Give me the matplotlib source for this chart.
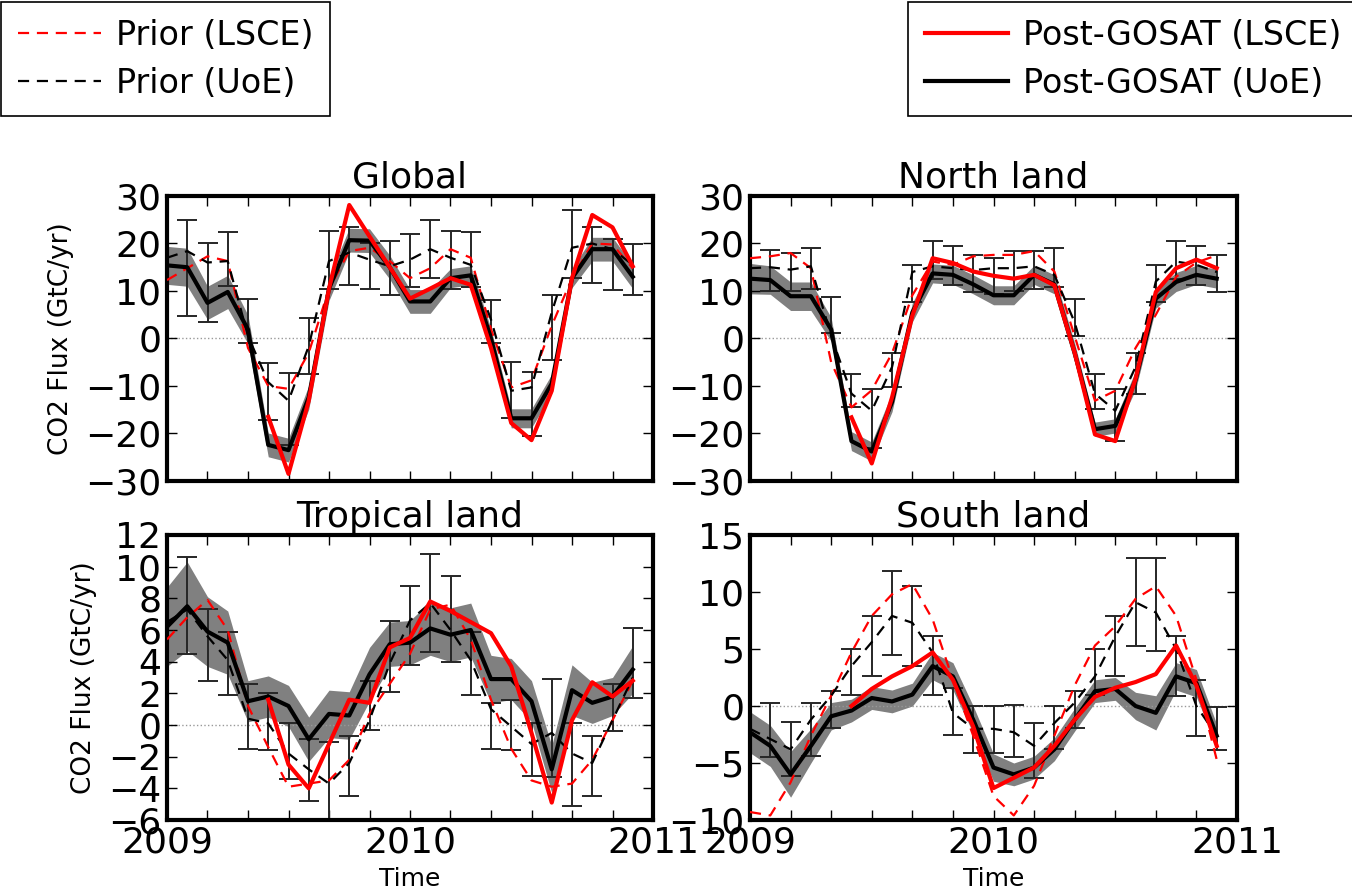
import numpy as np
import matplotlib
matplotlib.use("Agg")
import matplotlib.pyplot as plt
from matplotlib.ticker import MultipleLocator

nan = np.nan
months = 2009 + np.arange(24) / 12.0

# Global
glob_post_uoe = [15.4, 15.0, 7.5, 9.8, 1.9, -22.4, -23.5, -12.4, 10.5, 20.7, 20.6, 15.0,
                 7.8, 7.8, 12.7, 13.3, 0.0, -16.8, -16.8, -9.5, 12.7, 18.8, 18.8, 13.0]
glob_unc = [4, 4, 3.5, 3.5, 3, 2.5, 2.5, 2.5, 2.5, 2.5, 2.5, 2.5,
            2.5, 2.5, 2, 2, 2, 2, 2, 2, 2, 2.5, 2.5, 2.5]
glob_post_lsce = [nan, nan, nan, nan, nan, -16.5, -28.5, -13.1, 10.5, 28.1, 21.5, 15.0,
                  8.4, 10.5, 12.7, 11.3, -2.0, -17.8, -21.4, -11.0, 12.7, 26.0, 23.4, 15.2]
glob_prior_lsce = [12.3, 14.8, 17.3, 16.3, -2.0, -10.0, -10.6, -3.0, 10.5, 18.4, 19.1, 16.3,
                   12.7, 14.8, 18.8, 17.0, 2.0, -10.3, -8.8, 2.7, 12.7, 20.0, 19.8, 14.8]
glob_prior_uoe = [17.0, 18.4, 16.0, 16.3, 0.5, -9.2, -13.1, -1.6, 16.3, 18.1, 16.6, 15.2,
                  16.6, 18.8, 17.0, 15.5, 4.0, -11.0, -10.3, 5.5, 19.1, 20.0, 18.8, 15.5]
glob_err_hi = [24.9, 20.1, 22.4, 8.4, -5.2, -7.3, 4.4, 22.7, 23.4, 20.1, 20.5,
               21.9, 24.9, 22.7, 22.4, 8.0, -4.9, -7.0, 9.1, 27.0, 23.4, 20.9, 19.8]
glob_err_lo = [4.8, 3.4, 11.0, -0.9, -17.1, -22.5, -7.4, 10.5, 11.3, 10.5, 9.2,
               10.9, 12.7, 10.5, 10.9, -0.9, -16.7, -20.6, -4.5, 12.7, 11.6, 10.2, 9.1]

# North land
north_post_uoe = [12.6, 12.3, 8.9, 8.9, 1.9, -21.6, -23.8, -13.4, 5.5, 13.7, 13.4, 11.4,
                  9.1, 9.1, 13.4, 11.4, -3.0, -19.1, -18.4, -8.8, 8.4, 11.9, 13.4, 12.6]
north_unc = [3.2, 3, 3, 3, 2.5, 2, 2, 2, 2, 2, 2, 2,
             2, 2, 2, 2, 2, 1.5, 1.5, 2, 2, 2, 2, 2]
north_post_lsce = [nan, nan, nan, nan, nan, -16.6, -26.3, -12.4, 4.8, 16.9, 15.9, 14.1,
                   13.2, 12.6, 13.4, 11.2, -3.0, -20.2, -21.6, -8.5, 9.8, 14.8, 16.6, 14.8]
north_prior_lsce = [16.9, 17.3, 18.0, 14.8, -5.0, -14.5, -10.9, -3.1, 9.1, 16.2, 15.5, 17.3,
                    17.6, 17.6, 18.4, 14.1, 0.5, -13.1, -11.0, -2.0, 5.0, 13.0, 16.0, 17.5]
north_prior_uoe = [14.8, 15.0, 14.5, 15.2, 0.5, -11.6, -15.2, -6.0, 14.0, 15.2, 14.8, 14.4,
                   14.8, 14.8, 15.2, 13.4, 3.4, -11.6, -15.2, -6.0, 12.0, 16.2, 15.5, 14.0]
north_err_hi = [18.7, 18.0, 19.1, 8.7, -7.4, -10.6, -3.1, 15.5, 20.5, 19.4, 17.6,
                16.9, 18.4, 18.4, 19.1, 8.4, -7.4, -10.6, -3.1, 15.5, 20.5, 19.4, 17.6]
north_err_lo = [10.1, 10.1, 10.5, 1.2, -14.5, -23.1, -10.2, 7.6, 12.6, 11.2, 9.8,
                9.4, 10.1, 10.5, 10.9, 0.5, -14.9, -21.6, -11.6, 7.6, 12.6, 11.2, 9.8]

# Tropical land
trop_post_uoe = [6.2, 7.5, 5.9, 5.2, 1.5, 1.8, 1.2, -0.9, 0.7, 0.6, 3.2, 5.1,
                 5.2, 6.1, 5.7, 6.0, 2.9, 2.9, 1.5, -2.8, 2.2, 1.4, 1.8, 3.5]
trop_unc = [2.5, 2.8, 2.2, 2.0, 1.3, 1.3, 1.3, 1.4, 1.5, 1.5, 1.7, 1.4,
            1.4, 1.7, 1.7, 1.7, 1.5, 1.3, 1.3, 1.5, 1.6, 1.3, 1.2, 1.5]
trop_post_lsce = [nan, nan, nan, nan, nan, 1.6, -2.5, -4.0, -1.2, 1.6, 1.4, 4.9,
                  5.5, 7.8, 7.2, 6.5, 5.8, 3.7, -0.5, -4.9, 0.3, 2.7, 1.8, 2.8]
trop_prior_lsce = [5.4, 6.8, 7.9, 6.0, 1.2, -1.4, -3.9, -3.7, -3.5, -2.2, 0.7, 2.6,
                   4.5, 7.3, 7.6, 5.4, 1.6, -1.5, -3.5, -3.9, -3.7, -2.2, 0.3, 2.8]
trop_prior_uoe = [6.5, 7.3, 5.6, 4.1, 0.4, 0.1, -1.8, -2.8, -3.7, -2.4, 0.3, 3.9,
                  6.6, 7.7, 6.0, 4.1, 1.0, -0.1, -1.2, -0.5, -1.8, -2.4, 0.3, 3.0]
trop_err_hi = [10.6, 7.3, 5.9, 2.6, 2.0, 0.1, -0.9, -1.1, -0.7, 2.8, 6.6,
               8.8, 10.8, 9.4, 5.9, 1.4, 1.6, 0.1, 2.9, 0.1, -0.7, 2.6, 6.1]
trop_err_lo = [4.5, 2.8, 1.9, -1.5, -1.6, -3.4, -4.8, -6.5, -4.5, -0.3, 2.1,
               3.8, 4.6, 4.0, 1.9, -1.5, -1.6, -3.2, -3.3, -5.1, -4.5, -0.4, 1.7]

# South land
south_post_uoe = [-2.3, -3.5, -6.0, -3.5, -0.9, -0.4, 0.7, 0.4, 1.0, 3.5, 2.6, -1.2,
                  -5.4, -6.0, -5.4, -3.8, -1.2, 1.3, 1.5, 0.0, -0.6, 2.6, 2.0, -2.6]
south_unc = [1.8, 1.8, 2.0, 1.5, 1.2, 1.0, 1.0, 1.0, 1.0, 1.2, 1.2, 1.2,
             1.2, 1.0, 1.0, 1.0, 1.0, 1.0, 1.0, 1.2, 1.5, 1.2, 1.2, 1.0]
south_post_lsce = [nan, nan, nan, nan, nan, 0.0, 1.5, 2.6, 3.5, 4.7, 2.3, -1.8,
                   -7.2, -6.3, -5.4, -3.5, -1.2, 0.8, 1.6, 2.1, 2.8, 5.3, 1.8, -3.5]
south_prior_lsce = [-9.3, -9.6, -6.7, -2.6, 0.9, 4.7, 7.9, 9.8, 10.7, 7.6, 2.3, -2.6,
                    -7.9, -9.6, -7.0, -2.6, 1.8, 5.3, 7.0, 9.4, 10.5, 7.9, 2.3, -4.7]
south_prior_uoe = [-2.0, -2.9, -3.8, -1.2, 0.9, 3.5, 5.6, 7.9, 7.3, 4.7, -0.6, -2.0,
                   -2.0, -2.3, -3.5, -1.5, 0.3, 2.6, 6.1, 9.1, 8.2, 5.0, 0.0, -2.6]
south_err_hi = [0.3, -1.4, 0.3, 1.3, 5.0, 7.9, 11.8, 10.5, 6.1, 1.6, 0.0,
                0.0, 0.1, -1.5, 0.0, 1.3, 5.0, 7.9, 13.0, 13.0, 6.1, 2.3, -0.1]
south_err_lo = [-4.5, -6.1, -4.4, -1.9, 1.0, 2.6, 4.5, 3.5, 1.0, -2.5, -4.1,
                -4.1, -4.5, -6.3, -3.8, -1.9, 1.0, 2.6, 5.3, 4.8, 0.9, -2.6, -3.9]

panels = [
    ("Global", glob_post_uoe, glob_unc, glob_post_lsce, glob_prior_lsce, glob_prior_uoe,
     glob_err_lo, glob_err_hi, (-30, 30), 10),
    ("North land", north_post_uoe, north_unc, north_post_lsce, north_prior_lsce, north_prior_uoe,
     north_err_lo, north_err_hi, (-30, 30), 10),
    ("Tropical land", trop_post_uoe, trop_unc, trop_post_lsce, trop_prior_lsce, trop_prior_uoe,
     trop_err_lo, trop_err_hi, (-6, 12), 2),
    ("South land", south_post_uoe, south_unc, south_post_lsce, south_prior_lsce, south_prior_uoe,
     south_err_lo, south_err_hi, (-10, 15), 5),
]

W, H = 1352, 893
fig = plt.figure(figsize=(W / 100, H / 100), dpi=100)
rects = [
    (167 / W, 1 - 481 / H, 486 / W, 285 / H),
    (750 / W, 1 - 481 / H, 487 / W, 285 / H),
    (167 / W, 1 - 820 / H, 486 / W, 285 / H),
    (750 / W, 1 - 820 / H, 487 / W, 285 / H),
]

for k, (title, post_uoe, unc, post_lsce, prior_lsce, prior_uoe, elo, ehi, ylim, ystep) in enumerate(panels):
    ax = fig.add_axes(rects[k])
    post_uoe = np.array(post_uoe)
    unc = np.array(unc)
    ax.fill_between(months, post_uoe - unc, post_uoe + unc, color="0.5", lw=0, zorder=1)
    ax.axhline(0, color="0.6", ls=":", lw=1, zorder=1.5)
    elo = np.array(elo)
    ehi = np.array(ehi)
    ax.errorbar(months[1:], (elo + ehi) / 2, yerr=(ehi - elo) / 2, fmt="none",
                ecolor="0.15", elinewidth=1.4, capsize=7, capthick=1.4, zorder=2)
    ax.plot(months, prior_lsce, color="red", lw=1.6, dashes=(5, 3.5), zorder=3)
    ax.plot(months, prior_uoe, color="black", lw=1.6, dashes=(5, 3.5), zorder=3)
    ax.plot(months, post_uoe, color="black", lw=3, zorder=4)
    ax.plot(months, post_lsce, color="red", lw=3, zorder=5)

    ax.set_xlim(2009, 2011)
    ax.set_ylim(*ylim)
    ax.xaxis.set_major_locator(MultipleLocator(1))
    ax.xaxis.set_minor_locator(MultipleLocator(2 / 12))
    ax.yaxis.set_major_locator(MultipleLocator(ystep))
    ax.tick_params(which="both", direction="in", top=True, right=True,
                   length=7, width=1, labelsize=26, pad=4)
    ax.xaxis.set_major_formatter(matplotlib.ticker.FormatStrFormatter("%d"))
    for s in ax.spines.values():
        s.set_linewidth(3)
    ax.set_title(title, fontsize=26, pad=6)
    if k < 2:
        ax.tick_params(labelbottom=False)
    else:
        ax.set_xlabel("Time", fontsize=18, labelpad=5)
    if k % 2 == 0:
        ax.set_ylabel("CO2 Flux (GtC/yr)", fontsize=19, labelpad=8)

h1, = plt.plot([], [], color="red", lw=1.6, dashes=(5, 3.5))
h2, = plt.plot([], [], color="black", lw=1.6, dashes=(5, 3.5))
h3, = plt.plot([], [], color="red", lw=3)
h4, = plt.plot([], [], color="black", lw=3)

leg_kw = dict(fontsize=24, fancybox=False, framealpha=1, edgecolor="black",
              handlelength=2.5, handletextpad=0.45, borderaxespad=0, labelspacing=0.45,
              borderpad=0.5)
l1 = fig.legend([h1, h2], ["Prior (LSCE)", "Prior (UoE)"], loc="upper left",
                bbox_to_anchor=(1 / W, 1 - 2 / H), **leg_kw)
l2 = fig.legend([h3, h4], ["Post-GOSAT (LSCE)", "Post-GOSAT (UoE)"], loc="upper left",
                bbox_to_anchor=(908 / W, 1 - 2 / H), **leg_kw)
for l in (l1, l2):
    l.get_frame().set_linewidth(1.2)

fig.savefig("out.png", dpi=100)
